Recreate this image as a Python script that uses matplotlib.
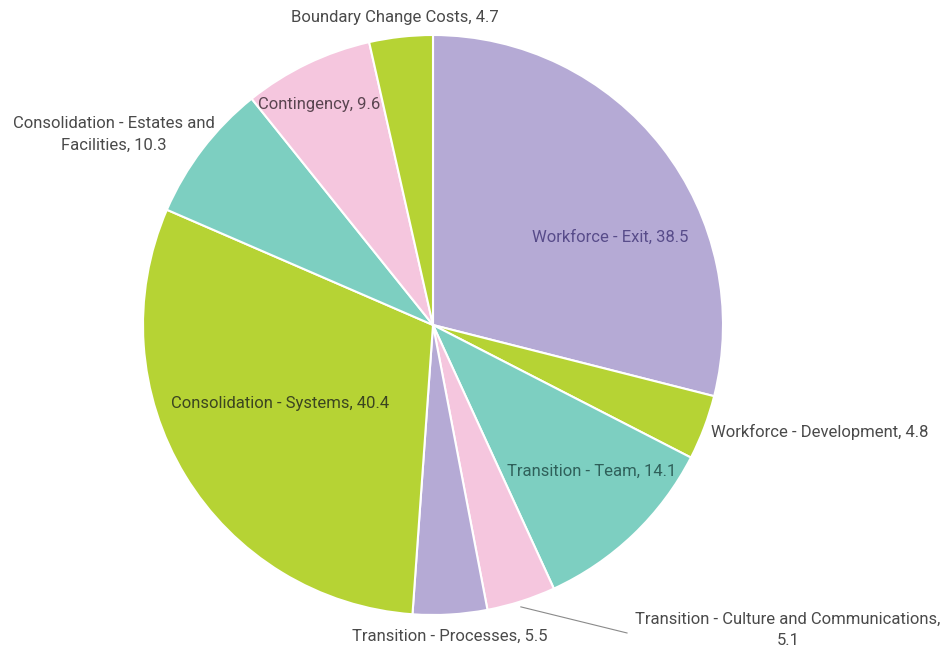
import matplotlib
matplotlib.use("Agg")
import matplotlib.pyplot as plt

labels = ["Workforce - Exit", "Workforce - Development", "Transition - Team",
          "Transition - Culture and Communications", "Transition - Processes",
          "Consolidation - Systems", "Consolidation - Estates and Facilities",
          "Contingency", "Boundary Change Costs"]
values = [38.5, 4.8, 14.1, 5.1, 5.5, 40.4, 10.3, 9.6, 4.7]
colors = ["#b5aad5", "#b6d334", "#7dcfc1", "#f5c6de", "#b5aad5",
          "#b6d334", "#7dcfc1", "#f5c6de", "#b6d334"]

# label text shown for each slice (line breaks as in the source)
label_text = ["Workforce - Exit, 38.5", "Workforce - Development, 4.8",
              "Transition - Team, 14.1",
              "Transition - Culture and Communications,\n5.1",
              "Transition - Processes, 5.5", "Consolidation - Systems, 40.4",
              "Consolidation - Estates and\nFacilities, 10.3",
              "Contingency, 9.6", "Boundary Change Costs, 4.7"]
label_pos = [(0.610, 0.303), (1.335, -0.369), (0.548, -0.503),
             (1.224, -1.052), (0.059, -1.072), (-0.528, -0.269),
             (-1.100, 0.658), (-0.392, 0.762), (-0.131, 1.062)]
label_color = ["#584c8a", "#4a4a4a", "#2f605a", "#4a4a4a", "#4a4a4a",
               "#3b4520", "#4a4a4a", "#5a4550", "#4a4a4a"]

plt.rcParams["font.family"] = ["Roboto", "DejaVu Sans"]

fig = plt.figure(figsize=(9.48, 6.52), dpi=100)
cx, cy, r = 433, 325, 290
ax = fig.add_axes([(cx - r) / 948, (652 - cy - r) / 652, 2 * r / 948, 2 * r / 652])
ax.pie(values, colors=colors, startangle=90, counterclock=False, radius=1,
       wedgeprops=dict(edgecolor="white", linewidth=1.5))
ax.set_xlim(-1, 1)
ax.set_ylim(-1, 1)
ax.set_aspect("equal")
ax.axis("off")

for txt, (x, y), c in zip(label_text, label_pos, label_color):
    ax.text(x, y, txt, ha="center", va="center", fontsize=12, color=c,
            multialignment="center", clip_on=False, linespacing=1.55)

# leader line for the culture & communications label
ax.plot([0.303, 0.669], [-0.972, -1.062], color="#8a8a8a", lw=0.8, clip_on=False)

fig.savefig("out.png", dpi=100)
